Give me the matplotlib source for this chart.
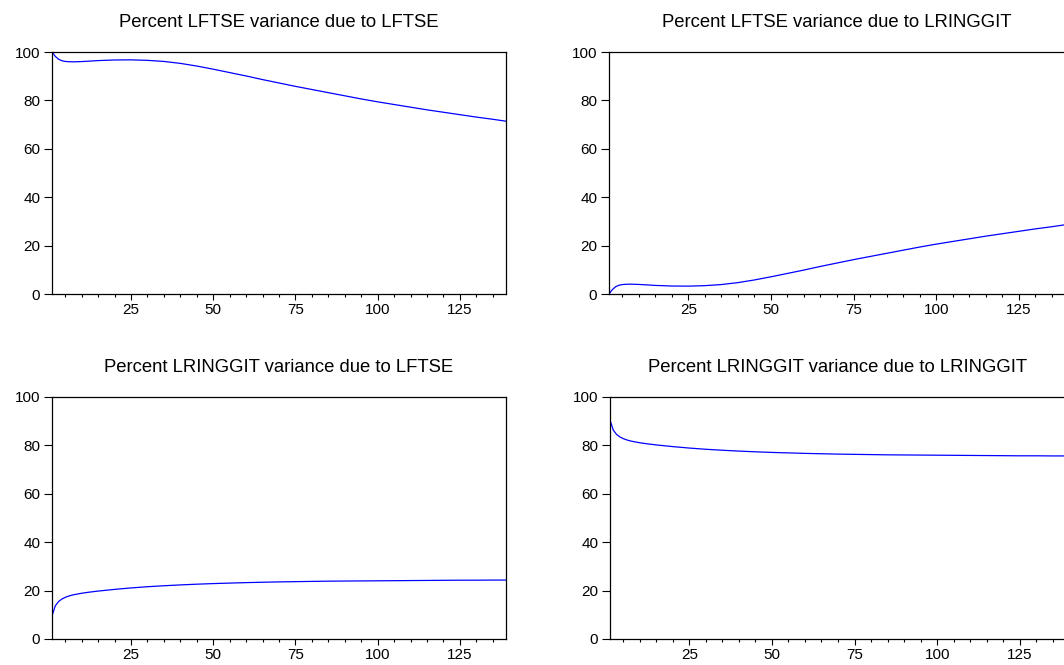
import matplotlib
matplotlib.use('Agg')
import matplotlib.pyplot as plt
from matplotlib.ticker import MultipleLocator

plt.rcParams['font.family'] = ['Liberation Sans', 'DejaVu Sans']

# forecast horizon (periods)
periods = [1, 2, 3, 4, 5, 6, 7, 8, 10, 12, 15, 20, 25, 30, 35, 40, 45, 50, 55, 60,
           65, 70, 75, 80, 85, 90, 95, 100, 105, 110, 115, 120, 125, 130, 135, 139]

# variance decomposition, percent
lftse_due_lftse = [100.0, 98.2, 97.0, 96.4, 96.1, 96.0, 95.95, 95.95, 96.05, 96.2, 96.45, 96.7,
                   96.75, 96.55, 96.1, 95.3, 94.2, 92.9, 91.5, 90.1, 88.6, 87.2, 85.8, 84.5,
                   83.2, 81.9, 80.6, 79.4, 78.3, 77.2, 76.1, 75.1, 74.1, 73.1, 72.2, 71.4]
lftse_due_lringgit = [0.0, 1.8, 3.0, 3.6, 3.9, 4.0, 4.05, 4.05, 3.95, 3.8, 3.55, 3.3,
                      3.25, 3.45, 3.9, 4.7, 5.8, 7.1, 8.5, 9.9, 11.4, 12.8, 14.2, 15.5,
                      16.8, 18.1, 19.4, 20.6, 21.7, 22.8, 23.9, 24.9, 25.9, 26.9, 27.8, 28.6]
lringgit_due_lftse = [9.5, 13.7, 15.5, 16.5, 17.2, 17.7, 18.1, 18.4, 18.9, 19.3, 19.8, 20.5,
                      21.1, 21.6, 22.0, 22.35, 22.65, 22.9, 23.1, 23.3, 23.45, 23.6, 23.7, 23.8,
                      23.9, 23.95, 24.0, 24.05, 24.1, 24.15, 24.2, 24.25, 24.3, 24.3, 24.35, 24.35]
lringgit_due_lringgit = [90.5, 86.3, 84.5, 83.5, 82.8, 82.3, 81.9, 81.6, 81.1, 80.7, 80.2, 79.5,
                         78.9, 78.4, 78.0, 77.65, 77.35, 77.1, 76.9, 76.7, 76.55, 76.4, 76.3, 76.2,
                         76.1, 76.05, 76.0, 75.95, 75.9, 75.85, 75.8, 75.75, 75.7, 75.7, 75.65, 75.65]

titles = ['Percent LFTSE variance due to LFTSE',
          'Percent LFTSE variance due to LRINGGIT',
          'Percent LRINGGIT variance due to LFTSE',
          'Percent LRINGGIT variance due to LRINGGIT']

W, H = 1064, 665


def px_box(left, top, right, bottom):
    return [left / W, 1 - bottom / H, (right - left) / W, (bottom - top) / H]


def panel(fig, box, values, title):
    ax = fig.add_axes(px_box(*box))
    ax.plot(periods, values, color='#0000ff', lw=0.9)
    ax.set_xlim(1, 139)
    ax.set_ylim(0, 100)
    ax.xaxis.set_major_locator(MultipleLocator(25))
    ax.xaxis.set_minor_locator(MultipleLocator(5))
    ax.yaxis.set_major_locator(MultipleLocator(20))
    ax.tick_params(axis='both', which='major', direction='out', labelsize=11,
                   width=0.8, colors='black')
    ax.tick_params(axis='y', which='major', length=5.5, pad=3)
    ax.tick_params(axis='x', which='major', length=4, pad=2.5)
    ax.tick_params(axis='x', which='minor', length=2.5, width=0.8)
    for s in ax.spines.values():
        s.set_linewidth(0.9)
    ax.set_title(title, fontsize=13.3, pad=18)
    return ax


def main():
    fig = plt.figure(figsize=(W / 100, H / 100), dpi=100)
    panel(fig, (52, 52, 506, 294), lftse_due_lftse, titles[0])
    panel(fig, (609, 52, 1065, 294), lftse_due_lringgit, titles[1])
    panel(fig, (52, 397, 506, 639), lringgit_due_lftse, titles[2])
    panel(fig, (610, 397, 1066, 639), lringgit_due_lringgit, titles[3])
    fig.savefig('out.png', dpi=100)
    plt.close(fig)


if __name__ == '__main__':
    main()
